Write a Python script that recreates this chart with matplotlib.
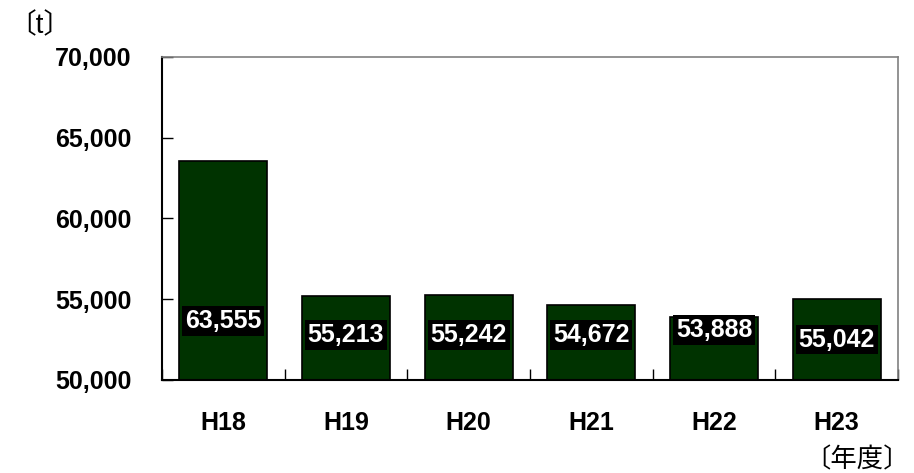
import matplotlib
matplotlib.use("Agg")
import matplotlib.pyplot as plt

categories = ["H18", "H19", "H20", "H21", "H22", "H23"]
values = [63555, 55213, 55242, 54672, 53888, 55042]
label_y = [53650, 52800, 52800, 52800, 53100, 52500]
yticks = [50000, 55000, 60000, 65000, 70000]

plt.rcParams['font.family'] = ['Liberation Sans', 'Noto Sans CJK JP', 'DejaVu Sans']

fig = plt.figure(figsize=(9.14, 4.73), dpi=100)
ax = fig.add_axes([162/914, 1-380/473, (898-162)/914, (380-57)/473])

x = [i + 0.5 for i in range(len(categories))]
ax.bar(x, values, width=0.72, color="#003300", edgecolor="black", linewidth=1.2, zorder=2)

ax.set_xlim(0, len(categories))
ax.set_ylim(50000, 70000)
ax.set_yticks(yticks)
ax.set_yticklabels([f"{v:,}" for v in yticks], fontsize=18, fontweight="bold")
ax.tick_params(axis="y", direction="in", length=8, pad=22, width=1)

ax.set_xticks(range(len(categories) + 1))
ax.set_xticklabels([])
ax.tick_params(axis="x", which="major", direction="in", length=8, width=1)
ax.set_xticks(x, minor=True)
ax.set_xticklabels(categories, minor=True, fontsize=18, fontweight="bold")
ax.tick_params(axis="x", which="minor", length=0, pad=22)

for s in ["left", "bottom"]:
    ax.spines[s].set_color("black")
    ax.spines[s].set_linewidth(1.5)
for s in ["top", "right"]:
    ax.spines[s].set_color("#808080")
    ax.spines[s].set_linewidth(1.2)

for xi, v, ly in zip(x, values, label_y):
    ax.text(xi, ly, f"{v:,}", ha="center", va="center", color="white",
            fontsize=18, fontweight="bold", zorder=3,
            bbox=dict(facecolor="black", edgecolor="none", pad=2))

fig.text(8/914, 1-26/473, "〔t〕", fontsize=20, ha="left", va="center")
fig.text(910/914, 1-460/473, "〔年度〕", fontsize=19, ha="right", va="center")

fig.savefig("out.png", dpi=100)
